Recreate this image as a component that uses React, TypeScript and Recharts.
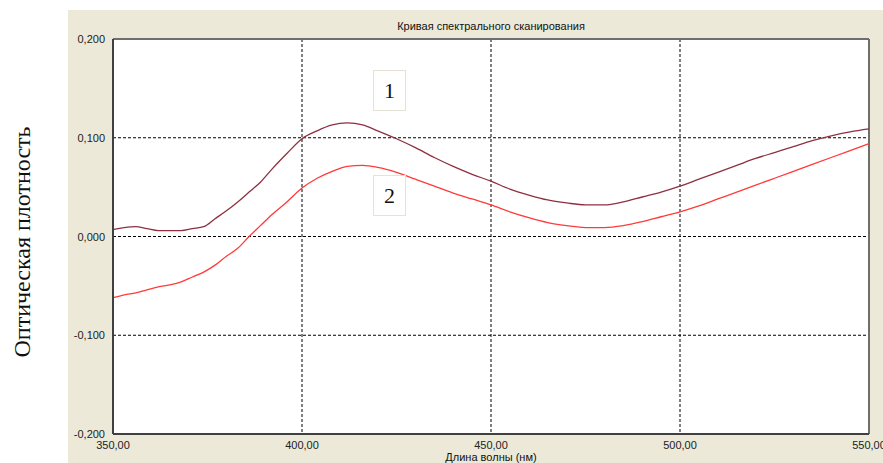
import {
  LineChart, Line, XAxis, YAxis, CartesianGrid, ReferenceLine,
} from "recharts";

// wavelength, nm
const wavelengths = [
  350, 353, 356, 359, 362, 365, 368, 371, 374, 377, 380, 383, 386, 389, 392, 396,
  400, 404, 408, 412, 416, 420, 425, 430, 435, 440, 445, 450, 455, 460, 465, 470,
  475, 480, 485, 490, 495, 500, 505, 510, 515, 520, 525, 530, 535, 540, 545, 550,
];

// curve 1 (dark red)
const curve1 = [
  0.007, 0.009, 0.010, 0.008, 0.006, 0.006, 0.006, 0.008, 0.010, 0.018, 0.026, 0.035, 0.045, 0.055, 0.068, 0.084,
  0.099, 0.107, 0.113, 0.115, 0.113, 0.107, 0.099, 0.090, 0.080, 0.071, 0.063, 0.056, 0.048, 0.042, 0.037, 0.034,
  0.032, 0.032, 0.035, 0.040, 0.045, 0.051, 0.058, 0.065, 0.072, 0.079, 0.085, 0.091, 0.097, 0.102, 0.106, 0.109,
];

// curve 2 (red)
const curve2 = [
  -0.062, -0.059, -0.057, -0.054, -0.051, -0.049, -0.046, -0.041, -0.036, -0.029, -0.020, -0.012, 0.000, 0.011, 0.022, 0.035,
  0.049, 0.059, 0.066, 0.071, 0.072, 0.070, 0.065, 0.058, 0.051, 0.044, 0.038, 0.032, 0.025, 0.019, 0.014, 0.011,
  0.009, 0.009, 0.011, 0.015, 0.020, 0.025, 0.031, 0.038, 0.045, 0.052, 0.059, 0.066, 0.073, 0.080, 0.087, 0.094,
];

const xTicks = [350, 400, 450, 500, 550];
const yTicks = [-0.2, -0.1, 0, 0.1, 0.2];

const data = wavelengths.map((w, i) => ({ w, c1: curve1[i], c2: curve2[i] }));

const tickFont = "'Liberation Sans', Arial, sans-serif";
const fmtX = (v: number) => v.toFixed(2).replace(".", ",");
const fmtY = (v: number) => v.toFixed(3).replace(".", ",");

const XTick = ({ x, y, payload }: any) => (
  <text x={x} y={y + 7} textAnchor="middle" fontSize={11} fill="#222" fontFamily={tickFont}>
    {fmtX(payload.value)}
  </text>
);

const YTick = ({ x, y, payload }: any) => (
  <text x={x} y={y + 4} textAnchor="end" fontSize={11} fill="#222" fontFamily={tickFont}>
    {fmtY(payload.value)}
  </text>
);

const box: React.CSSProperties = {
  position: "absolute", width: 33, height: 41, border: "1px solid #e6e2d6", background: "#fff",
  fontFamily: "'Liberation Serif', 'Times New Roman', serif", fontSize: 22, color: "#111",
  display: "flex", alignItems: "center", justifyContent: "center", boxSizing: "border-box",
};

export default function App() {
  return (
    <div style={{ position: "absolute", left: 0, top: 0, width: 883, height: 463, background: "#fff", overflow: "hidden" }}>
      <div style={{ position: "absolute", left: 68, top: 10, width: 815, height: 453, background: "#ece9d8" }} />

      <LineChart
        width={883} height={463} data={data}
        margin={{ top: 39, right: 14, bottom: 0, left: 68 }}
        style={{ position: "absolute", left: 0, top: 0 }}
      >
        <CartesianGrid fill="#fff" stroke="#000" strokeDasharray="3 2" />
        <XAxis
          dataKey="w" type="number" domain={[350, 550]} ticks={xTicks} height={29}
          axisLine={{ stroke: "#404040", strokeWidth: 2 }} tickLine={false} tick={<XTick />}
        />
        <YAxis
          type="number" domain={[-0.2, 0.2]} ticks={yTicks} width={45}
          axisLine={{ stroke: "#404040", strokeWidth: 2 }} tickLine={false} tick={<YTick />}
        />
        <ReferenceLine y={0.2} stroke="#6e6e6e" strokeWidth={2} />
        <ReferenceLine x={550} stroke="#6e6e6e" strokeWidth={2} />
        <Line type="monotone" dataKey="c1" stroke="#8e3040" strokeWidth={1.3} dot={false} isAnimationActive={false} />
        <Line type="monotone" dataKey="c2" stroke="#ff3a3a" strokeWidth={1.3} dot={false} isAnimationActive={false} />
      </LineChart>

      <div style={{ position: "absolute", left: 113, width: 756, top: 20, textAlign: "center", fontFamily: tickFont, fontSize: 11, color: "#111" }}>
        Кривая спектрального сканирования
      </div>
      <div style={{ position: "absolute", left: 113, width: 756, top: 451, textAlign: "center", fontFamily: tickFont, fontSize: 11, lineHeight: "12px", color: "#111" }}>
        Длина волны (нм)
      </div>

      <div style={{ ...box, left: 373, top: 70 }}>1</div>
      <div style={{ ...box, left: 373, top: 175 }}>2</div>

      <div style={{
        position: "absolute", left: 22, top: 242, transform: "translate(-50%, -50%) rotate(-90deg)",
        whiteSpace: "nowrap", fontFamily: "'Liberation Serif', 'Times New Roman', serif", fontSize: 24, color: "#111",
      }}>
        Оптическая плотность
      </div>
    </div>
  );
}
